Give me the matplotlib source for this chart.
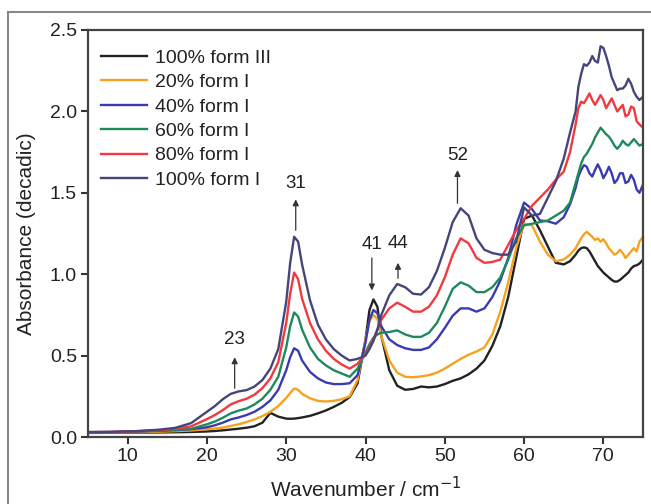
import matplotlib
matplotlib.use("Agg")
import matplotlib.pyplot as plt
from matplotlib.lines import Line2D

plt.rcParams['font.family'] = ['Liberation Sans', 'DejaVu Sans']

wavenumber = [5, 8, 11, 14, 16, 18,
              20, 21, 22, 23, 24, 25, 26, 27, 28, 29, 30,
              30.5, 31, 31.5,
              32, 33, 34, 35, 36, 37, 38, 39, 40,
              40.5, 41, 41.5,
              42, 43, 44, 45, 46, 47, 48, 49, 50, 51, 52, 53, 54, 55, 56, 57, 58, 59, 60, 61, 62, 63, 64, 65,
              65.8, 66.5,
              66.85, 67.2, 67.55, 67.9, 68.25, 68.6, 68.95, 69.3, 69.65, 70.0, 70.35, 70.7, 71.05, 71.4,
              71.75, 72.1, 72.45, 72.8, 73.15, 73.5, 73.85, 74.2, 74.55,
              75]

form3_100 = [0.025, 0.026, 0.027, 0.028, 0.029, 0.031,
             0.034, 0.037, 0.041, 0.046, 0.051, 0.057, 0.066, 0.088, 0.148, 0.125, 0.113,
             0.112, 0.113, 0.116,
             0.12, 0.13, 0.145, 0.163, 0.185, 0.21, 0.245, 0.33, 0.6,
             0.78, 0.845, 0.8,
             0.62, 0.41, 0.315, 0.29, 0.295, 0.31, 0.305, 0.31, 0.325, 0.345, 0.36, 0.385, 0.42, 0.47, 0.56, 0.68, 0.86, 1.1, 1.34, 1.36, 1.27, 1.17, 1.07, 1.06,
             1.08, 1.12,
             1.145, 1.16, 1.165, 1.16, 1.14, 1.11, 1.08, 1.05, 1.03, 1.01, 0.995, 0.98, 0.965, 0.955,
             0.955, 0.965, 0.98, 0.995, 1.01, 1.035, 1.05, 1.055, 1.065,
             1.09]

form1_20 = [0.028, 0.028, 0.03, 0.033, 0.036, 0.04,
            0.048, 0.052, 0.058, 0.068, 0.078, 0.092, 0.108, 0.128, 0.155, 0.19, 0.24,
            0.27, 0.298, 0.29,
            0.265, 0.238, 0.222, 0.218, 0.222, 0.232, 0.25, 0.35, 0.6,
            0.71, 0.75, 0.725,
            0.62, 0.47, 0.395, 0.37, 0.367, 0.372, 0.38, 0.395, 0.42, 0.45, 0.48, 0.505, 0.525, 0.55, 0.63, 0.77, 0.95, 1.16, 1.31, 1.3, 1.2, 1.12, 1.08, 1.09,
            1.12, 1.16,
            1.19, 1.22, 1.245, 1.26, 1.245, 1.23, 1.21, 1.22, 1.2, 1.215, 1.19, 1.16, 1.14, 1.12,
            1.13, 1.15, 1.13, 1.1, 1.12, 1.14, 1.16, 1.14, 1.2,
            1.23]

form1_40 = [0.03, 0.03, 0.033, 0.038, 0.042, 0.048,
            0.06, 0.072, 0.088, 0.108, 0.12, 0.135, 0.155, 0.185, 0.225, 0.29, 0.41,
            0.49, 0.545, 0.53,
            0.47, 0.4, 0.36, 0.335, 0.325, 0.325, 0.33, 0.38, 0.58,
            0.72, 0.78, 0.76,
            0.68, 0.6, 0.565, 0.545, 0.535, 0.535, 0.55, 0.6, 0.67, 0.745, 0.79, 0.79, 0.77, 0.79, 0.86, 0.96, 1.1, 1.3, 1.44, 1.4, 1.33, 1.325, 1.31, 1.35,
            1.43, 1.53,
            1.6, 1.64, 1.67, 1.66, 1.62, 1.6, 1.64, 1.675, 1.64, 1.59, 1.62, 1.66, 1.62, 1.56,
            1.58, 1.62, 1.62, 1.56, 1.57, 1.61, 1.58, 1.52, 1.5,
            1.55]

form1_60 = [0.028, 0.03, 0.034, 0.04, 0.045, 0.05,
            0.078, 0.095, 0.118, 0.145, 0.162, 0.175, 0.2, 0.235, 0.29, 0.37, 0.55,
            0.68, 0.765, 0.74,
            0.66, 0.55, 0.48, 0.44, 0.41, 0.39, 0.37, 0.42, 0.52,
            0.57, 0.61, 0.63,
            0.64, 0.645, 0.655, 0.63, 0.615, 0.615, 0.64, 0.7, 0.8, 0.91, 0.95, 0.93, 0.89, 0.89, 0.92, 0.98, 1.09, 1.22, 1.3, 1.31, 1.32, 1.33, 1.36, 1.39,
            1.44, 1.56,
            1.62, 1.68, 1.72, 1.74, 1.77, 1.8, 1.84, 1.87, 1.9, 1.88, 1.86, 1.845, 1.82, 1.79,
            1.77, 1.79, 1.82, 1.8, 1.79, 1.81, 1.83, 1.81, 1.79,
            1.8]

form1_80 = [0.03, 0.031, 0.035, 0.042, 0.05, 0.065,
            0.11, 0.135, 0.165, 0.2, 0.22, 0.235, 0.26, 0.3, 0.36, 0.46, 0.7,
            0.88, 1.01, 0.97,
            0.85, 0.7, 0.6, 0.53, 0.48, 0.445, 0.42, 0.45, 0.51,
            0.55, 0.6, 0.66,
            0.72, 0.79, 0.825, 0.8, 0.77, 0.77, 0.8, 0.87, 0.98, 1.12, 1.22, 1.19, 1.1, 1.07, 1.075, 1.09, 1.18, 1.27, 1.34, 1.42, 1.47, 1.52, 1.58, 1.63,
            1.75, 1.92,
            2.02, 2.06, 2.05, 2.08, 2.11, 2.07, 2.04, 2.07, 2.1, 2.07, 2.02, 2.05, 2.08, 2.04,
            2.0, 2.02, 2.04, 1.97, 1.98, 2.03, 2.02, 1.94, 1.92,
            1.9]

form1_100 = [0.03, 0.032, 0.036, 0.045, 0.056, 0.085,
             0.155, 0.19, 0.232, 0.265, 0.28, 0.288, 0.31, 0.35, 0.42, 0.54, 0.83,
             1.07, 1.23, 1.2,
             1.06, 0.84, 0.69, 0.6, 0.54, 0.5, 0.47, 0.48, 0.5,
             0.54, 0.59, 0.66,
             0.75, 0.87, 0.94, 0.92, 0.88, 0.875, 0.92, 1.02, 1.16, 1.32, 1.405, 1.36, 1.22, 1.15, 1.13, 1.12, 1.12, 1.2, 1.41, 1.36, 1.37, 1.47, 1.57, 1.71,
             1.87, 2.0,
             2.15, 2.23, 2.29, 2.28, 2.3, 2.34, 2.31, 2.3, 2.4, 2.39, 2.34, 2.28, 2.21, 2.17,
             2.13, 2.14, 2.14, 2.16, 2.2, 2.17, 2.12, 2.09, 2.07,
             2.09]

series = [
    ("100% form III", form3_100, "#222222"),
    ("20% form I", form1_20, "#f6a21e"),
    ("40% form I", form1_40, "#3b3bb0"),
    ("60% form I", form1_60, "#1e8a5c"),
    ("80% form I", form1_80, "#f03a40"),
    ("100% form I", form1_100, "#45457a"),
]

peak_labels = ["23", "31", "41", "44", "52"]
peak_x = [23.5, 31.2, 40.8, 44.1, 51.6]
peak_text_y = [0.6, 1.56, 1.18, 1.19, 1.73]
arrow_tail_y = [0.30, 1.27, 1.10, 0.975, 1.435]
arrow_head_y = [0.49, 1.46, 0.90, 1.07, 1.64]

fig = plt.figure(figsize=(6.51, 5.04), dpi=100)
ax = fig.add_axes([88/651, 1-437/504, (643-88)/651, (437-30)/504])

for name, vals, col in series:
    ax.plot(wavenumber, vals, color=col, lw=1.7, label=name)

for lab, x, ty, t0, t1 in zip(peak_labels, peak_x, peak_text_y, arrow_tail_y, arrow_head_y):
    ax.annotate("", xy=(x, t1), xytext=(x, t0),
                arrowprops=dict(arrowstyle='-|>', color='#333333', lw=0.9,
                                mutation_scale=9, shrinkA=0, shrinkB=0))
    ax.text(x, ty, lab, ha='center', va='center', fontsize=13.5, color='#222222')

ax.set_xlim(5, 75)
ax.set_ylim(0, 2.5)
ax.set_xticks([10, 20, 30, 40, 50, 60, 70])
ax.set_yticks([0.0, 0.5, 1.0, 1.5, 2.0, 2.5])
ax.set_yticklabels(["0.0", "0.5", "1.0", "1.5", "2.0", "2.5"])
ax.tick_params(direction='out', length=5, width=1.5, labelsize=14, colors='#333333',
               labelcolor='#222222', pad=3)
for s in ax.spines.values():
    s.set_color('#444444')
    s.set_linewidth(1.6)

ax.set_xlabel("Wavenumber / cm$^{-1}$", fontsize=15, color='#222222', labelpad=8)
ax.set_ylabel("Absorbance (decadic)", fontsize=15, color='#222222', labelpad=10)

leg = ax.legend(loc='upper left', bbox_to_anchor=(0.0, 0.984), frameon=False, fontsize=14,
                handlelength=2.4, handletextpad=0.4, labelspacing=0.35, borderaxespad=0.25)
for t in leg.get_texts():
    t.set_color('#222222')

fig.add_artist(Line2D([8/651, 8/651], [0, 1-12/504], transform=fig.transFigure,
                      color='#888888', lw=1.5))
fig.add_artist(Line2D([8/651, 1], [1-12/504, 1-12/504], transform=fig.transFigure,
                      color='#888888', lw=1.5))

fig.savefig("out.png", dpi=100)
